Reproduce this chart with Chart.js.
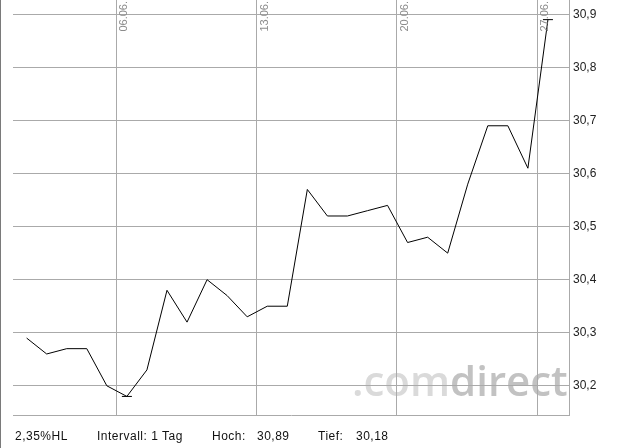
<!DOCTYPE html>
<html>
<head>
<meta charset="utf-8">
<script src="https://cdn.jsdelivr.net/npm/chart.js@4/dist/chart.umd.min.js"></script>
<style>
  html, body { margin: 0; padding: 0; background: #fff; }
  #wrap { position: relative; width: 617px; height: 448px; overflow: hidden; }
  #leftLine { position: absolute; left: 0; top: 0; width: 1px; height: 448px; background: #7a7a7a; }
  .info { position: absolute; top: 429px; font: 12px "Liberation Sans", Arial, sans-serif; letter-spacing: 0.5px; color: #111; white-space: pre; line-height: 14px; }
</style>
</head>
<body>
<div id="wrap">
  <canvas id="kurs" width="617" height="448"></canvas>
  <div id="leftLine"></div>
  <div class="info" id="infoHL" style="left:15px"></div>
  <div class="info" style="left:97px">Intervall: 1 Tag</div>
  <div class="info" style="left:212px">Hoch:</div>
  <div class="info" id="infoHoch" style="left:257px"></div>
  <div class="info" style="left:318px">Tief:</div>
  <div class="info" id="infoTief" style="left:356px"></div>
</div>
<script>
// Kursdaten (Tagesschluss)
const kurse = [30.29, 30.26, 30.27, 30.27, 30.20, 30.18, 30.23, 30.38, 30.32, 30.40,
               30.37, 30.33, 30.35, 30.35, 30.57, 30.52, 30.52, 30.53, 30.54, 30.47,
               30.48, 30.45, 30.58, 30.69, 30.69, 30.61, 30.89];
const tage = kurse.map((_, i) => i);

// Wochenlinien (Position in Tagen) und Beschriftung
const wochenPos = [4.47, 11.47, 18.47, 25.47];
const wochenLabels = ["06.06.", "13.06.", "20.06.", "27.06."];

// Y-Achse
const yTicks = [30.2, 30.3, 30.4, 30.5, 30.6, 30.7, 30.8, 30.9];

const fmt = (v, d) => v.toFixed(d).replace('.', ',');

const hoch = Math.max(...kurse);
const tief = Math.min(...kurse);
const markierung = kurse.map(v => (v === hoch || v === tief) ? v : null);

document.getElementById('infoHL').textContent = fmt((hoch - tief) / tief * 100, 2) + '%HL';
document.getElementById('infoHoch').textContent = fmt(hoch, 2);
document.getElementById('infoTief').textContent = fmt(tief, 2);

const deko = {
  id: 'deko',
  beforeDraw(chart) {
    const ctx = chart.ctx;
    ctx.save();
    ctx.fillStyle = '#fff';
    ctx.fillRect(0, 0, chart.width, chart.height);
    // Wasserzeichen
    ctx.font = '600 42px "Open Sans", sans-serif';
    ctx.textBaseline = 'alphabetic';
    ctx.textAlign = 'left';
    ctx.fillStyle = '#dadada';
    ctx.fillText('.com', 352, 396);
    const w = ctx.measureText('.com').width;
    ctx.fillStyle = '#c2c2c2';
    ctx.fillText('direct', 352 + w, 396);
    ctx.restore();
  },
  afterDraw(chart) {
    const ctx = chart.ctx;
    const xs = chart.scales.x;
    ctx.save();
    ctx.font = '11px "Liberation Sans", Arial, sans-serif';
    ctx.fillStyle = '#8c8c8c';
    ctx.textAlign = 'right';
    ctx.textBaseline = 'top';
    wochenPos.forEach((p, i) => {
      const px = Math.round(xs.getPixelForValue(p));
      ctx.save();
      ctx.translate(px + 2, 1);
      ctx.rotate(-Math.PI / 2);
      ctx.fillText(wochenLabels[i], 0, 0);
      ctx.restore();
    });
    ctx.restore();
  }
};

const ohnePadding = s => { s.paddingTop = 0; s.paddingBottom = 0; s.paddingLeft = 0; s.paddingRight = 0; };

new Chart(document.getElementById('kurs'), {
  type: 'line',
  data: {
    labels: tage,
    datasets: [{
      data: kurse,
      borderColor: '#000',
      borderWidth: 1,
      pointRadius: 0,
      tension: 0,
      fill: false
    }, {
      data: markierung,
      showLine: false,
      pointStyle: 'line',
      pointRadius: 5,
      borderColor: '#000',
      borderWidth: 1,
      backgroundColor: '#000'
    }]
  },
  options: {
    responsive: false,
    animation: false,
    devicePixelRatio: 1,
    layout: { autoPadding: false, padding: { left: 13, top: 0, right: 0, bottom: 0 } },
    plugins: { legend: { display: false }, tooltip: { enabled: false } },
    scales: {
      x: {
        type: 'linear',
        min: -0.68,
        max: 27.05,
        grid: { color: '#aaaaaa', drawTicks: false },
        border: { color: '#aaaaaa' },
        ticks: { display: false },
        afterBuildTicks: s => { s.ticks = wochenPos.map(v => ({ value: v })); },
        afterFit: s => { s.height = 33; ohnePadding(s); }
      },
      y: {
        position: 'right',
        min: 30.145,
        max: 30.927,
        grid: { color: '#aaaaaa', drawTicks: false },
        border: { color: '#aaaaaa' },
        ticks: {
          padding: 4,
          color: '#222',
          font: { family: '"Liberation Sans", Arial, sans-serif', size: 12 },
          callback: v => fmt(v, 1)
        },
        afterBuildTicks: s => { s.ticks = yTicks.map(v => ({ value: v })); },
        afterFit: s => { s.width = 48; ohnePadding(s); }
      }
    }
  },
  plugins: [deko]
});
</script>
</body>
</html>
